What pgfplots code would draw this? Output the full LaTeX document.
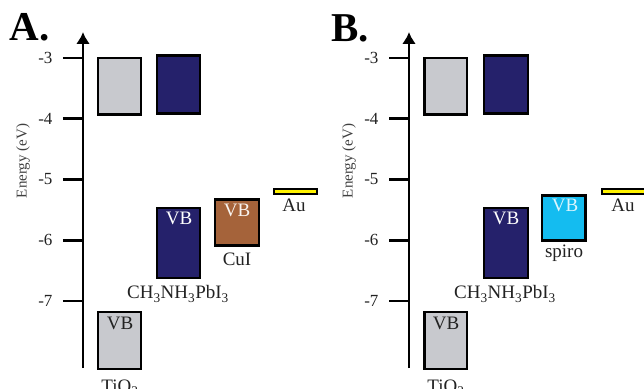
\documentclass[border=0pt]{standalone}
\usepackage{fontspec}
\setmainfont{Liberation Serif}
\usepackage{pgfplots}
\pgfplotsset{compat=1.18}
\usetikzlibrary{arrows.meta}
\definecolor{tio}{HTML}{C8C9CE}
\definecolor{navy}{HTML}{25216B}
\definecolor{cui}{HTML}{A5633A}
\definecolor{spiro}{HTML}{14BCF0}
\definecolor{gold}{HTML}{FFF200}
\definecolor{txt}{HTML}{222222}
\newcommand\lab{\fontsize{19bp}{21bp}\selectfont}
\pgfplotsset{
  energy/.style={
    x=1bp, y=60.75bp,
    ymin=-8.103, ymax=-2.572,
    axis x line=none,
    axis y line=left,
    y axis line style={line width=2.7bp, -{Latex[length=12bp,width=14bp]}},
    ytick={-7,-6,-5,-4,-3},
    yticklabels={-7,-6,-5,-4,-3},
    ytick align=outside,
    major tick length=20bp,
    every tick/.style={line width=2.7bp, black},
    yticklabel style={font=\fontsize{17bp}{17bp}\selectfont, text=txt, xshift=-7bp},
    ylabel={Energy (eV)},
    every axis y label/.style={at={(axis description cs:0,0.616)}, xshift=-60bp, rotate=90, anchor=center, font=\fontsize{15bp}{15bp}\selectfont, text=black!75},
    clip=false,
  },
  box/.style={draw=black, line width=2.8bp, line join=miter},
}
\begin{document}
\begin{tikzpicture}
\useasboundingbox (0,0) rectangle (644bp,-389bp);
% Panel A
\begin{axis}[energy, at={(83bp,-368bp)}, anchor=south west, xmin=83, xmax=320]
\addplot[box, fill=tio] coordinates {(98,-3.0) (141,-3.0) (141,-3.93) (98,-3.93)} -- cycle;
\addplot[box, fill=navy] coordinates {(157,-2.96) (200,-2.96) (200,-3.92) (157,-3.92)} -- cycle;
\addplot[box, fill=tio] coordinates {(98,-7.18) (141,-7.18) (141,-8.12) (98,-8.12)} -- cycle;
\addplot[box, fill=navy] coordinates {(157,-5.47) (200,-5.47) (200,-6.62) (157,-6.62)} -- cycle;
\addplot[box, fill=cui] coordinates {(215,-5.33) (259,-5.33) (259,-6.09) (215,-6.09)} -- cycle;
\addplot[box, line width=2bp, fill=gold] coordinates {(274,-5.157) (316.5,-5.157) (316.5,-5.239) (274,-5.239)} -- cycle;
\node[anchor=base, font=\lab, text=txt] at (axis cs:120,-7.461) {VB};
\node[anchor=base, font=\lab, text=white] at (axis cs:179,-5.733) {VB};
\node[anchor=base, font=\lab, text=white!92!cui] at (axis cs:237,-5.617) {VB};
\node[anchor=base, font=\lab, text=txt] at (axis cs:178,-6.967) {CH\textsubscript{3}NH\textsubscript{3}PbI\textsubscript{3}};
\node[anchor=base, font=\lab, text=txt] at (axis cs:237,-6.41) {CuI};
\node[anchor=base, font=\lab, text=txt] at (axis cs:294,-5.535) {Au};
\node[anchor=base, font=\lab, text=txt] at (axis cs:120,-8.498) {TiO\textsubscript{2}};
\node[anchor=base west, font=\fontsize{41bp}{41bp}\selectfont\bfseries] at (axis cs:6,-2.72) {A.};
\end{axis}
% Panel B
\begin{axis}[energy, at={(409bp,-368bp)}, anchor=south west, xmin=409, xmax=660]
\addplot[box, fill=tio] coordinates {(424.5,-3.0) (467,-3.0) (467,-3.93) (424.5,-3.93)} -- cycle;
\addplot[box, fill=navy] coordinates {(484,-2.96) (528,-2.96) (528,-3.92) (484,-3.92)} -- cycle;
\addplot[box, fill=tio] coordinates {(424.5,-7.18) (467,-7.18) (467,-8.12) (424.5,-8.12)} -- cycle;
\addplot[box, fill=navy] coordinates {(484,-5.47) (528,-5.47) (528,-6.62) (484,-6.62)} -- cycle;
\addplot[box, fill=spiro] coordinates {(542,-5.26) (585.5,-5.26) (585.5,-6.01) (542,-6.01)} -- cycle;
\addplot[box, line width=2bp, fill=gold] coordinates {(601.5,-5.157) (660,-5.157) (660,-5.239) (601.5,-5.239)} -- cycle;
\node[anchor=base, font=\lab, text=txt] at (axis cs:446,-7.461) {VB};
\node[anchor=base, font=\lab, text=white] at (axis cs:506,-5.733) {VB};
\node[anchor=base, font=\lab, text=white!85!spiro] at (axis cs:565,-5.535) {VB};
\node[anchor=base, font=\lab, text=txt] at (axis cs:505,-6.967) {CH\textsubscript{3}NH\textsubscript{3}PbI\textsubscript{3}};
\node[anchor=base, font=\lab, text=txt] at (axis cs:564,-6.292) {spiro};
\node[anchor=base, font=\lab, text=txt] at (axis cs:623,-5.535) {Au};
\node[anchor=base, font=\lab, text=txt] at (axis cs:446,-8.498) {TiO\textsubscript{2}};
\node[anchor=base west, font=\fontsize{41bp}{41bp}\selectfont\bfseries] at (axis cs:328,-2.73) {B.};
\end{axis}
\end{tikzpicture}
\end{document}
